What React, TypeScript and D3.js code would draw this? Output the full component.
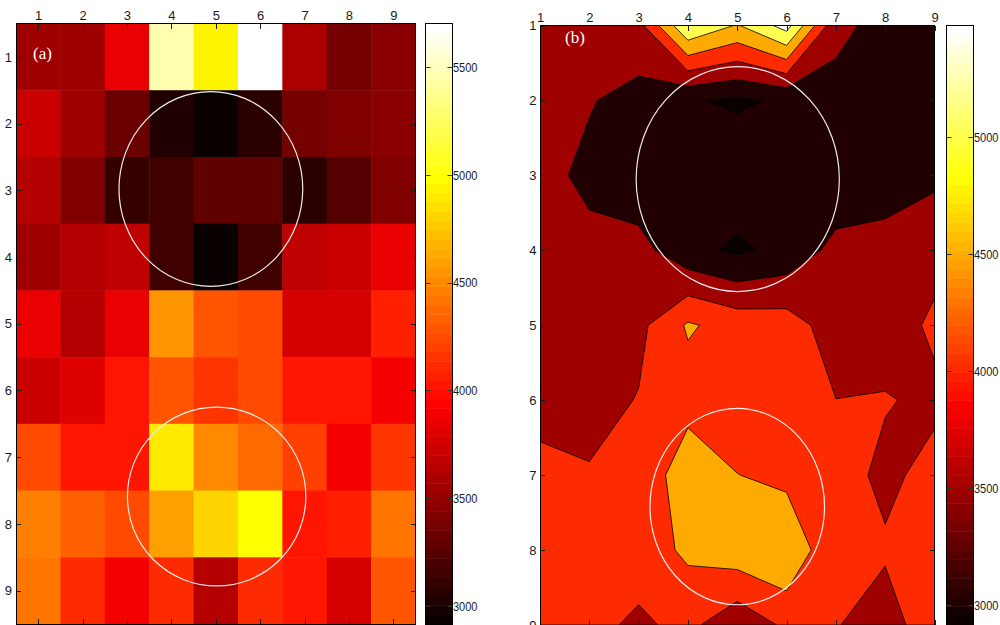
import { useEffect, useRef } from "react";
import * as d3 from "d3";

// grid columns / rows (1..9), row 1 at the top
const columns = [1, 2, 3, 4, 5, 6, 7, 8, 9];
const rows = [1, 2, 3, 4, 5, 6, 7, 8, 9];

const row1 = [3544, 3560, 3833, 5480, 4961, 5702, 3610, 3360, 3469];
const row2 = [3734, 3530, 3340, 3035, 2940, 3055, 3360, 3403, 3460];
const row3 = [3635, 3400, 3130, 3172, 3290, 3271, 3090, 3222, 3403];
const row4 = [3544, 3617, 3684, 3139, 2916, 3139, 3660, 3701, 3833];
const row5 = [3833, 3626, 3866, 4560, 4300, 4243, 3750, 3750, 4090];
const row6 = [3701, 3800, 4026, 4267, 4143, 4226, 4005, 4034, 3898];
const row7 = [4240, 4044, 4017, 4900, 4510, 4354, 4212, 3886, 4164];
const row8 = [4470, 4341, 4227, 4596, 4807, 4990, 4010, 4060, 4424];
const row9 = [4424, 4126, 3916, 4130, 3626, 4093, 4025, 3780, 4300];

const contourLevels = [3000, 3500, 4000, 4500, 5000, 5500];
const colorbarTicksA = [3000, 3500, 4000, 4500, 5000, 5500];
const colorbarTicksB = [3000, 3500, 4000, 4500, 5000];
const contourColorMax = 5477;

// marked regions, in grid units
const circlesA = [
  { cx: 4.89, cy: 2.98, rx: 2.07, ry: 1.46 },
  { cx: 5.02, cy: 7.59, rx: 2.01, ry: 1.34 },
];
const circlesB = [
  { cx: 5.01, cy: 3.05, rx: 2.06, ry: 1.5 },
  { cx: 5.0, cy: 7.42, rx: 1.77, ry: 1.31 },
];

const FONT = "'Liberation Sans', Arial, sans-serif";

// matlab hot(64)
function hot(k: number) {
  const r = Math.min(k / 24, 1);
  const g = Math.max(0, Math.min((k - 24) / 24, 1));
  const b = Math.max(0, Math.min((k - 48) / 16, 1));
  return d3.rgb(r * 255, g * 255, b * 255).formatHex();
}

function hotColor(v: number, lo: number, hi: number) {
  let k = Math.floor(((v - lo) / (hi - lo)) * 64) + 1;
  k = Math.max(1, Math.min(64, k));
  return hot(k);
}

export default function App() {
  const ref = useRef<SVGSVGElement>(null);

  useEffect(() => {
    const svg = d3.select(ref.current);
    svg.selectAll("*").remove();

    const grid = [row1, row2, row3, row4, row5, row6, row7, row8, row9];
    const flat = grid.flat();
    const vmin = d3.min(flat) as number;
    const vmax = d3.max(flat) as number;

    const drawAxes = (g: any, xs: any, ys: any, pad: number) => {
      const [x0, x1] = xs.range();
      const [y0, y1] = ys.range();
      const styleAxis = (a: any) => {
        a.attr("font-family", FONT).attr("font-size", 13).attr("color", "#1a1a1a");
        a.selectAll("path").remove();
        a.selectAll("line").attr("stroke-width", 1).attr("shape-rendering", "crispEdges");
      };
      g.append("g")
        .attr("transform", `translate(0,${y0})`)
        .call(d3.axisTop(xs).tickValues(columns).tickSize(-5).tickSizeOuter(0).tickPadding(pad))
        .call(styleAxis);
      g.append("g")
        .attr("transform", `translate(0,${y1})`)
        .call(d3.axisBottom(xs).tickValues(columns).tickSize(-5).tickSizeOuter(0).tickFormat(() => ""))
        .call(styleAxis);
      g.append("g")
        .attr("transform", `translate(${x0},0)`)
        .call(d3.axisLeft(ys).tickValues(rows).tickSize(-5).tickSizeOuter(0).tickPadding(pad))
        .call(styleAxis);
      g.append("g")
        .attr("transform", `translate(${x1},0)`)
        .call(d3.axisRight(ys).tickValues(rows).tickSize(-5).tickSizeOuter(0).tickFormat(() => ""))
        .call(styleAxis);
      g.append("rect")
        .attr("x", x0)
        .attr("y", y0)
        .attr("width", x1 - x0)
        .attr("height", y1 - y0)
        .attr("fill", "none")
        .attr("stroke", "#000")
        .attr("shape-rendering", "crispEdges");
    };

    const drawColorbar = (x0: number, x1: number, y0: number, y1: number, lo: number, hi: number, ticks: number[]) => {
      const cs = d3.scaleLinear().domain([lo, hi]).range([y1, y0]);
      const g = svg.append("g");
      const steps = d3.range(1, 65);
      g.selectAll("rect.band")
        .data(steps)
        .enter()
        .append("rect")
        .attr("x", x0)
        .attr("width", x1 - x0)
        .attr("y", (k) => cs(lo + (k * (hi - lo)) / 64))
        .attr("height", (k) => cs(lo + ((k - 1) * (hi - lo)) / 64) - cs(lo + (k * (hi - lo)) / 64) + 0.5)
        .attr("fill", (k) => hot(k));
      g.append("rect")
        .attr("x", x0)
        .attr("y", y0)
        .attr("width", x1 - x0)
        .attr("height", y1 - y0)
        .attr("fill", "none")
        .attr("stroke", "#000")
        .attr("shape-rendering", "crispEdges");
      const t = g.selectAll("g.tick").data(ticks).enter().append("g");
      t.append("line")
        .attr("x1", x0)
        .attr("x2", x0 + 5)
        .attr("y1", (d) => Math.round(cs(d)) + 0.5)
        .attr("y2", (d) => Math.round(cs(d)) + 0.5)
        .attr("stroke", "#333");
      t.append("line")
        .attr("x1", x1 - 5)
        .attr("x2", x1)
        .attr("y1", (d) => Math.round(cs(d)) + 0.5)
        .attr("y2", (d) => Math.round(cs(d)) + 0.5)
        .attr("stroke", "#333");
      t.append("text")
        .attr("x", x1 + 0.5)
        .attr("y", (d) => cs(d))
        .attr("dy", "0.36em")
        .attr("font-family", FONT)
        .attr("font-size", 13.5)
        .attr("textLength", 24.5)
        .attr("lengthAdjust", "spacingAndGlyphs")
        .attr("fill", "#1a1a1a")
        .text((d) => d);
    };

    // ---------- (a) image ----------
    const xA = d3.scaleLinear().domain([0.5, 9.5]).range([16, 415.5]);
    const yA = d3.scaleLinear().domain([0.5, 9.5]).range([23.5, 624]);
    const gA = svg.append("g");
    const cells = flat.map((v, idx) => ({ v, col: (idx % 9) + 1, row: Math.floor(idx / 9) + 1 }));
    gA.selectAll("rect.cell")
      .data(cells)
      .enter()
      .append("rect")
      .attr("x", (d) => xA(d.col - 0.5))
      .attr("y", (d) => yA(d.row - 0.5))
      .attr("width", (d) => xA(d.col + 0.5) - xA(d.col - 0.5) + 0.5)
      .attr("height", (d) => yA(d.row + 0.5) - yA(d.row - 0.5) + 0.5)
      .attr("fill", (d) => hotColor(d.v, vmin, vmax));
    gA.selectAll("ellipse")
      .data(circlesA)
      .enter()
      .append("ellipse")
      .attr("cx", (d) => xA(d.cx))
      .attr("cy", (d) => yA(d.cy))
      .attr("rx", (d) => xA(d.cx + d.rx) - xA(d.cx))
      .attr("ry", (d) => yA(d.cy + d.ry) - yA(d.cy))
      .attr("fill", "none")
      .attr("stroke", "#ececec")
      .attr("stroke-width", 1.2);
    gA.append("text")
      .attr("x", 33)
      .attr("y", 59)
      .attr("font-family", "'Liberation Serif', 'Times New Roman', serif")
      .attr("font-size", 17)
      .attr("fill", "#fff")
      .text("(a)");
    drawAxes(gA, xA, yA, 4);
    drawColorbar(425.5, 452.5, 23.5, 624, vmin, vmax, colorbarTicksA);

    // ---------- (b) filled contour ----------
    const xB = d3.scaleLinear().domain([1, 9]).range([540, 934.5]);
    const yB = d3.scaleLinear().domain([1, 9]).range([25.5, 625]);
    const gB = svg.append("g");
    svg.append("defs")
      .append("clipPath")
      .attr("id", "clipB")
      .append("rect")
      .attr("x", 540)
      .attr("y", 25.5)
      .attr("width", 934.5 - 540)
      .attr("height", 625 - 25.5);
    const clamp = (v: number) => Math.max(0.5, Math.min(8.5, v));
    const proj = d3.geoTransform({
      point(x: number, y: number) {
        (this as any).stream.point(xB(clamp(x) + 0.5), yB(clamp(y) + 0.5));
      },
    });
    const path = d3.geoPath(proj);
    const contours = d3.contours().size([9, 9]).thresholds(contourLevels)(flat);
    const plotB = gB.append("g").attr("clip-path", "url(#clipB)");
    plotB.append("rect")
      .attr("x", 540)
      .attr("y", 25.5)
      .attr("width", 934.5 - 540)
      .attr("height", 625 - 25.5)
      .attr("fill", hotColor(vmin, vmin, contourColorMax));
    plotB.selectAll("path.level")
      .data(contours)
      .enter()
      .append("path")
      .attr("d", (d) => path(d as any))
      .attr("fill", (d) => hotColor(d.value, vmin, contourColorMax))
      .attr("stroke", "#000")
      .attr("stroke-width", 0.8)
      .attr("stroke-linejoin", "round");
    plotB.selectAll("ellipse")
      .data(circlesB)
      .enter()
      .append("ellipse")
      .attr("cx", (d) => xB(d.cx))
      .attr("cy", (d) => yB(d.cy))
      .attr("rx", (d) => xB(d.cx + d.rx) - xB(d.cx))
      .attr("ry", (d) => yB(d.cy + d.ry) - yB(d.cy))
      .attr("fill", "none")
      .attr("stroke", "#ececec")
      .attr("stroke-width", 1.2);
    gB.append("text")
      .attr("x", 565)
      .attr("y", 43)
      .attr("font-family", "'Liberation Serif', 'Times New Roman', serif")
      .attr("font-size", 17)
      .attr("fill", "#fff")
      .text("(b)");
    drawAxes(gB, xB, yB, 3.5);
    drawColorbar(946.5, 973.5, 25.5, 625, vmin, contourColorMax, colorbarTicksB);
  }, []);

  return (
    <svg
      ref={ref}
      width={1000}
      height={625}
      style={{ position: "absolute", left: 0, top: 0, background: "#fff", display: "block" }}
    />
  );
}
